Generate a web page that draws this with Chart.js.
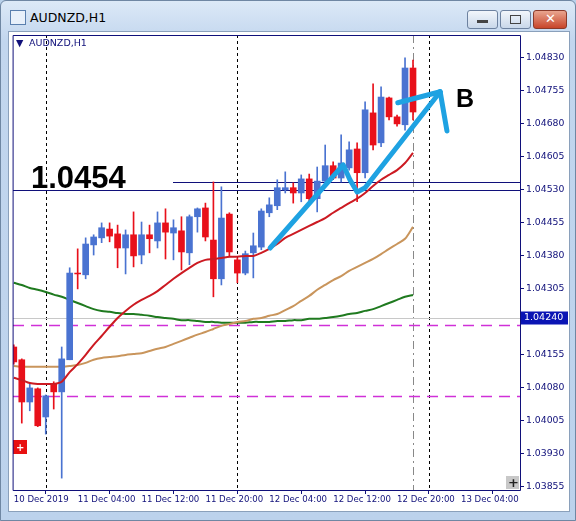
<!DOCTYPE html>
<html><head><meta charset="utf-8">
<script src="https://cdn.jsdelivr.net/npm/chart.js@4"></script>
<style>
html,body{margin:0;padding:0;width:576px;height:521px;overflow:hidden;background:#b9d1ea;font-family:"DejaVu Sans",sans-serif}
#frame{position:absolute;left:0;top:0;width:574px;height:519px;border:1px solid #6f87a3;border-radius:6px 6px 0 0;background:linear-gradient(#dce9f7,#c2d6ee 40px,#bcd2ec)}
#title{position:absolute;left:30px;top:10px;font-size:12.5px;color:#000}
#icon{position:absolute;left:10px;top:10px;width:14px;height:13px;border:1px solid #5a7fae;background:#e8f0fa}
.btn{position:absolute;top:10px;height:17px;border:1px solid #6d82a0;border-radius:3px;background:linear-gradient(#f2f6fb,#c9d8ea)}
#panel{position:absolute;left:8px;top:31px;width:560px;height:479px;background:#fff;border:1px solid #8aa0bb}
canvas{position:absolute;left:0;top:0}
</style></head><body>
<div id="frame"></div>
<div id="icon"></div><div id="title">AUDNZD,H1</div>
<div class="btn" style="left:467px;width:29px"><div style="position:absolute;left:9px;top:9px;width:11px;height:3px;background:#444"></div></div>
<div class="btn" style="left:500px;width:29px"><div style="position:absolute;left:9px;top:4px;width:9px;height:7px;border:1px solid #444"></div></div>
<div class="btn" style="left:533px;width:32px;background:linear-gradient(#e9a58f,#c8452a);border-color:#8a3a2a"><div style="position:absolute;left:11px;top:0px;color:#fff;font-weight:bold;font-size:13px">✕</div></div>
<div id="panel"></div>
<canvas id="c" width="576" height="521"></canvas>
<script>
const openP =[1.04173,1.04144,1.04048,1.04078,1.04014,1.04089,1.04071,1.04144,1.04341,1.04337,1.04405,1.04421,1.04441,1.04430,1.04398,1.04428,1.04382,1.04428,1.04414,1.04455,1.04432,1.04437,1.04387,1.04469,1.04489,1.04416,1.04328,1.04475,1.04371,1.04341,1.04387,1.04400,1.04478,1.04494,1.04530,1.04535,1.04523,1.04555,1.04510,1.04550,1.04585,1.04557,1.04580,1.04623,1.04569,1.04705,1.04637,1.04739,1.04696,1.04678,1.04807];
const highP =[1.04178,1.04146,1.04089,1.04080,1.04064,1.04094,1.04173,1.04353,1.04396,1.04421,1.04428,1.04455,1.04455,1.04450,1.04439,1.04480,1.04457,1.04450,1.04480,1.04487,1.04462,1.04469,1.04473,1.04489,1.04500,1.04548,1.04537,1.04478,1.04375,1.04391,1.04432,1.04487,1.04512,1.04553,1.04571,1.04546,1.04564,1.04566,1.04582,1.04632,1.04594,1.04655,1.04639,1.04637,1.04730,1.04771,1.04764,1.04741,1.04700,1.04830,1.04825];
const lowP  =[1.04134,1.04000,1.04028,1.03992,1.03975,1.04032,1.03875,1.04144,1.04305,1.04328,1.04382,1.04410,1.04412,1.04353,1.04339,1.04355,1.04362,1.04387,1.04398,1.04373,1.04371,1.04348,1.04360,1.04434,1.04414,1.04287,1.04314,1.04378,1.04319,1.04337,1.04330,1.04394,1.04469,1.04485,1.04523,1.04500,1.04503,1.04503,1.04480,1.04546,1.04553,1.04548,1.04575,1.04503,1.04557,1.04621,1.04628,1.04689,1.04675,1.04666,1.04689];
const closeP=[1.04139,1.04048,1.04080,1.03994,1.04062,1.04071,1.04146,1.04341,1.04339,1.04407,1.04423,1.04444,1.04425,1.04398,1.04428,1.04380,1.04428,1.04419,1.04455,1.04434,1.04444,1.04389,1.04469,1.04487,1.04423,1.04328,1.04466,1.04389,1.04341,1.04385,1.04403,1.04482,1.04496,1.04535,1.04535,1.04523,1.04555,1.04510,1.04550,1.04585,1.04557,1.04591,1.04621,1.04569,1.04712,1.04632,1.04741,1.04696,1.04680,1.04807,1.04707];
const maFast=[1.04103,1.04098,1.04091,1.04089,1.04089,1.04089,1.04094,1.04116,1.04134,1.04155,1.04178,1.04198,1.04219,1.04239,1.04255,1.04269,1.04280,1.04289,1.04300,1.04314,1.04328,1.04341,1.04353,1.04364,1.04371,1.04373,1.04375,1.04378,1.04378,1.04380,1.04380,1.04387,1.04396,1.04407,1.04421,1.04430,1.04439,1.04448,1.04457,1.04466,1.04478,1.04489,1.04500,1.04510,1.04523,1.04539,1.04553,1.04564,1.04575,1.04591,1.04614];
const maMid =[1.04130,1.04128,1.04128,1.04128,1.04128,1.04128,1.04128,1.04130,1.04132,1.04137,1.04144,1.04148,1.04150,1.04152,1.04155,1.04157,1.04159,1.04164,1.04169,1.04173,1.04180,1.04187,1.04194,1.04201,1.04207,1.04214,1.04221,1.04225,1.04230,1.04232,1.04237,1.04239,1.04244,1.04248,1.04257,1.04266,1.04278,1.04289,1.04303,1.04314,1.04325,1.04334,1.04346,1.04355,1.04364,1.04373,1.04384,1.04396,1.04407,1.04419,1.04446];
const maSlow=[1.04319,1.04314,1.04307,1.04303,1.04298,1.04292,1.04287,1.04280,1.04273,1.04266,1.04259,1.04255,1.04253,1.04250,1.04248,1.04248,1.04246,1.04244,1.04241,1.04239,1.04237,1.04234,1.04234,1.04232,1.04230,1.04230,1.04228,1.04228,1.04228,1.04228,1.04230,1.04230,1.04230,1.04232,1.04232,1.04234,1.04234,1.04237,1.04237,1.04239,1.04241,1.04244,1.04248,1.04250,1.04255,1.04259,1.04266,1.04273,1.04280,1.04287,1.04291];
const yTicks=[1.03855,1.03930,1.04005,1.04080,1.04155,1.04230,1.04305,1.04380,1.04455,1.04530,1.04605,1.04680,1.04755,1.04830];
const xTickPos=[0,8,16,24,32,40,48,56];
const xTickLabels=["10 Dec 2019","11 Dec 04:00","11 Dec 12:00","11 Dec 20:00","12 Dec 04:00","12 Dec 12:00","12 Dec 20:00","13 Dec 04:00"];
const levelShort=1.04548, levelLong=1.04530, bidLine=1.04240, pinkHi=1.04223, pinkLo=1.04062;
const daySeps=[4,28,52], currentBar=50;
const arrowPath=[[32.1,1.04398],[41.25,1.04587],[42.1,1.04553],[43,1.04525],[44,1.04535],[53.4,1.04753]];
const arrowLeft=[[48.1,1.04728],[53.4,1.04753]], arrowRight=[[53.4,1.04753],[54.25,1.04664]];

const idx=openP.map((_,i)=>i);
const bull=i=>closeP[i]>=openP[i];
const colFn=i=>bull(i)?'#4a73d1':'#e8101a';
const bodies=idx.map(i=>({x:i,y:[openP[i],closeP[i]]}));
const wicks=idx.map(i=>({x:i,y:[lowP[i],highP[i]]}));
const NAVY='#10107a';

const overlay={id:'ov',
 beforeDatasetsDraw(ch){const {ctx,chartArea:a,scales:{x,y}}=ch;ctx.save();
  ctx.beginPath();ctx.rect(a.left,a.top,a.right-a.left,a.bottom-a.top);ctx.clip();
  ctx.lineWidth=1;ctx.strokeStyle='#000';ctx.setLineDash([3,3]);
  daySeps.forEach(d=>{const px=Math.round(x.getPixelForValue(d))+0.5;ctx.beginPath();ctx.moveTo(px,a.top);ctx.lineTo(px,a.bottom);ctx.stroke();});
  ctx.strokeStyle='#888';ctx.setLineDash([8,4,2,4]);
  {const px=Math.round(x.getPixelForValue(currentBar))+0.5;ctx.beginPath();ctx.moveTo(px,a.top);ctx.lineTo(px,a.bottom);ctx.stroke();}
  ctx.setLineDash([]);ctx.strokeStyle='#c8c8c8';
  {const py=Math.round(y.getPixelForValue(bidLine))+0.5;ctx.beginPath();ctx.moveTo(a.left,py);ctx.lineTo(a.right,py);ctx.stroke();}
  ctx.strokeStyle='#d030d8';ctx.lineWidth=1.3;ctx.setLineDash([11,7]);
  [pinkHi,pinkLo].forEach(v=>{const py=Math.round(y.getPixelForValue(v))+0.5;ctx.beginPath();ctx.moveTo(a.left,py);ctx.lineTo(a.right,py);ctx.stroke();});
  ctx.setLineDash([]);ctx.lineWidth=1;ctx.strokeStyle=NAVY;
  {const py=Math.round(y.getPixelForValue(levelLong))+0.5;ctx.beginPath();ctx.moveTo(a.left,py);ctx.lineTo(a.right,py);ctx.stroke();}
  {const py=Math.round(y.getPixelForValue(levelShort))+0.5;ctx.beginPath();ctx.moveTo(a.left+160,py);ctx.lineTo(a.right,py);ctx.stroke();}
  ctx.restore();},
 afterDatasetsDraw(ch){const {ctx,chartArea:a,scales:{x,y}}=ch;ctx.save();
  const P=p=>[x.getPixelForValue(p[0]),y.getPixelForValue(p[1])];
  ctx.strokeStyle='#1ea2e2';ctx.lineWidth=5;ctx.lineCap='round';ctx.lineJoin='round';
  [arrowPath,arrowLeft,arrowRight].forEach(path=>{ctx.beginPath();path.forEach((p,k)=>{const q=P(p);k?ctx.lineTo(q[0],q[1]):ctx.moveTo(q[0],q[1]);});ctx.stroke();});
  ctx.fillStyle='#000';ctx.font='bold 31px "Liberation Sans",Arial';ctx.textBaseline='alphabetic';
  ctx.fillText('1.0454',31,188);
  ctx.font='bold 25px "Liberation Sans",Arial';ctx.fillText('B',456,107);
  ctx.fillStyle=NAVY;ctx.font='9.5px "DejaVu Sans"';ctx.fillText('▼',16,46);ctx.fillText('AUDNZD,H1',29,46);
  ctx.fillStyle='#e81010';ctx.fillRect(13,440,14,14);ctx.fillStyle='#fff';ctx.font='bold 10px "DejaVu Sans"';ctx.fillText('+',16,451);
  ctx.fillStyle='#c8c8c8';ctx.fillRect(506,476,13,13);ctx.fillStyle='#222';ctx.font='bold 13px "DejaVu Sans"';ctx.fillText('+',508,487);
  ctx.strokeStyle=NAVY;ctx.lineWidth=1;ctx.strokeRect(a.left+0.5,a.top+0.5,a.right-a.left,a.bottom-a.top);
  const py=y.getPixelForValue(bidLine);ctx.fillStyle='#0a14b4';ctx.fillRect(a.right+1,py-6,47,13);
  ctx.fillStyle='#fff';ctx.font='9.5px "DejaVu Sans"';ctx.textBaseline='middle';ctx.fillText('1.04240',a.right+4,py+0.5);
  ctx.restore();}};

new Chart(document.getElementById('c'),{
 data:{datasets:[
  {type:'line',data:idx.map(i=>({x:i,y:maSlow[i]})),borderColor:'#1f7a1f',borderWidth:2,pointRadius:0,tension:0.3,order:5},
  {type:'line',data:idx.map(i=>({x:i,y:maMid[i]})),borderColor:'#c9955c',borderWidth:2,pointRadius:0,tension:0.3,order:4},
  {type:'bar',data:wicks,backgroundColor:idx.map(colFn),barThickness:1,grouped:false,order:3},
  {type:'bar',data:bodies,backgroundColor:idx.map(colFn),barThickness:6,grouped:false,order:2},
  {type:'line',data:idx.map(i=>({x:i,y:maFast[i]})),borderColor:'#cc1a22',borderWidth:2,pointRadius:0,tension:0.3,order:1}
 ]},
 options:{responsive:false,animation:false,events:[],
  layout:{padding:{left:13,top:35,right:6,bottom:12}},
  plugins:{legend:{display:false},tooltip:{enabled:false}},
  scales:{
   x:{type:'linear',min:-0.1,max:63.4,offset:false,grid:{display:true,drawOnChartArea:false,tickLength:4,color:NAVY},border:{display:false},
      afterBuildTicks:s=>{s.ticks=xTickPos.map(v=>({value:v}));},
      afterFit:s=>{s.height=19;},
      ticks:{autoSkip:false,maxRotation:0,align:'start',padding:1,color:NAVY,font:{family:'DejaVu Sans',size:8.6},
        callback:(v)=>xTickLabels[xTickPos.indexOf(v)]}},
   y:{position:'right',min:1.03848,max:1.04882,grid:{display:true,drawOnChartArea:false,tickLength:4,color:NAVY},border:{display:false},
      afterBuildTicks:s=>{s.ticks=yTicks.map(v=>({value:v}));},
      afterFit:s=>{s.width=50;},
      ticks:{padding:2,color:NAVY,font:{family:'DejaVu Sans',size:9.3},callback:v=>v.toFixed(5)}}
  }},
 plugins:[overlay]});
</script></body></html>
